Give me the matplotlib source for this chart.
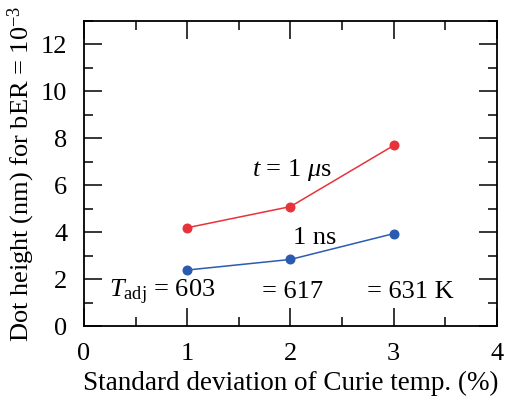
import matplotlib
matplotlib.use("Agg")
import matplotlib.pyplot as plt
from matplotlib.ticker import MultipleLocator

plt.rcParams['font.family'] = 'Liberation Serif'
plt.rcParams['mathtext.fontset'] = 'custom'
plt.rcParams['mathtext.rm'] = 'Liberation Serif'
plt.rcParams['mathtext.it'] = 'Liberation Serif:italic'

sigma = [1, 2, 3]
height_1us = [4.2, 5.1, 7.7]
height_1ns = [2.4, 2.85, 3.95]
t_adj_labels = ["$T_{\\mathrm{adj}}$ = 603", "= 617", "= 631 K"]

fig = plt.figure(figsize=(5.05, 4.03), dpi=100)
ax = fig.add_axes([0.1663, 0.190, 0.8177, 0.758])

ax.plot(sigma, height_1us, '-o', color='#e8333a', lw=1.1, ms=6.2)
ax.plot(sigma, height_1ns, '-o', color='#2b5bb0', lw=1.1, ms=6.2)

ax.set_xlim(0, 4)
ax.set_ylim(0, 13)
ax.xaxis.set_major_locator(MultipleLocator(1))
ax.xaxis.set_minor_locator(MultipleLocator(0.5))
ax.yaxis.set_major_locator(MultipleLocator(2))
ax.yaxis.set_minor_locator(MultipleLocator(1))
ax.tick_params(which='both', direction='in', top=True, right=True, labelsize=19, width=1.1)
ax.tick_params(which='major', length=13, pad=12)
ax.tick_params(which='minor', length=6.5)
for s in ax.spines.values():
    s.set_linewidth(1.3)

ax.set_xlabel('Standard deviation of Curie temp. (%)', fontsize=19.5, labelpad=4)
ax.set_ylabel('Dot height (nm) for bER = $10^{-3}$', fontsize=19, labelpad=3)

ax.text(1.63, 6.65, '$t$ = 1 $\\mu$s', fontsize=19, va='center')
ax.text(2.02, 3.76, '1 ns', fontsize=19, va='center')
for x, lab in zip([0.24, 1.72, 2.74], t_adj_labels):
    ax.text(x, 1.45, lab, fontsize=19, va='center')

fig.savefig('out.png', dpi=100)
